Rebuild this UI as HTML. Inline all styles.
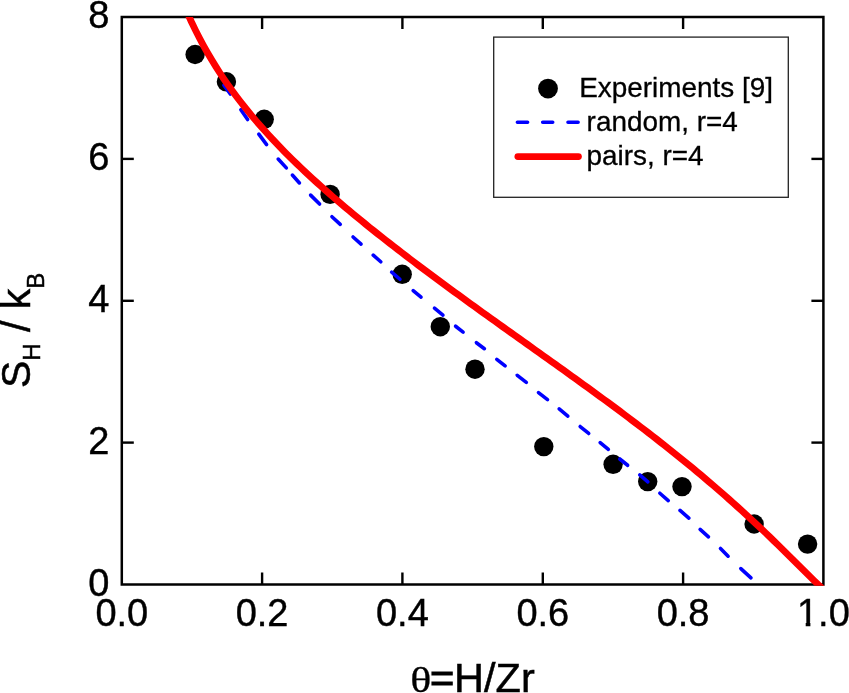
<!DOCTYPE html>
<html><head><meta charset="utf-8"><style>html,body{margin:0;padding:0;background:#fff;}svg{display:block;will-change:transform;font-family:"Liberation Sans",sans-serif;}</style></head><body>
<svg width="849" height="693" viewBox="0 0 849 693">
<rect width="849" height="693" fill="#fff"/>
<rect x="121.8" y="17.0" width="701.6" height="567.5" fill="none" stroke="#000" stroke-width="2.5"/>
<line x1="262.1" y1="584.5" x2="262.1" y2="572.5" stroke="#000" stroke-width="2.4"/>
<line x1="262.1" y1="17.0" x2="262.1" y2="29.0" stroke="#000" stroke-width="2.4"/>
<line x1="402.4" y1="584.5" x2="402.4" y2="572.5" stroke="#000" stroke-width="2.4"/>
<line x1="402.4" y1="17.0" x2="402.4" y2="29.0" stroke="#000" stroke-width="2.4"/>
<line x1="542.8" y1="584.5" x2="542.8" y2="572.5" stroke="#000" stroke-width="2.4"/>
<line x1="542.8" y1="17.0" x2="542.8" y2="29.0" stroke="#000" stroke-width="2.4"/>
<line x1="683.1" y1="584.5" x2="683.1" y2="572.5" stroke="#000" stroke-width="2.4"/>
<line x1="683.1" y1="17.0" x2="683.1" y2="29.0" stroke="#000" stroke-width="2.4"/>
<line x1="121.8" y1="442.6" x2="133.8" y2="442.6" stroke="#000" stroke-width="2.4"/>
<line x1="823.4" y1="442.6" x2="811.4" y2="442.6" stroke="#000" stroke-width="2.4"/>
<line x1="121.8" y1="300.8" x2="133.8" y2="300.8" stroke="#000" stroke-width="2.4"/>
<line x1="823.4" y1="300.8" x2="811.4" y2="300.8" stroke="#000" stroke-width="2.4"/>
<line x1="121.8" y1="158.9" x2="133.8" y2="158.9" stroke="#000" stroke-width="2.4"/>
<line x1="823.4" y1="158.9" x2="811.4" y2="158.9" stroke="#000" stroke-width="2.4"/>
<text x="121.8" y="626.4" font-size="38" text-anchor="middle" fill="#000" stroke="#000" stroke-width="0.4">0.0</text>
<text x="262.1" y="626.4" font-size="38" text-anchor="middle" fill="#000" stroke="#000" stroke-width="0.4">0.2</text>
<text x="402.4" y="626.4" font-size="38" text-anchor="middle" fill="#000" stroke="#000" stroke-width="0.4">0.4</text>
<text x="542.8" y="626.4" font-size="38" text-anchor="middle" fill="#000" stroke="#000" stroke-width="0.4">0.6</text>
<text x="683.1" y="626.4" font-size="38" text-anchor="middle" fill="#000" stroke="#000" stroke-width="0.4">0.8</text>
<text x="823.4" y="626.4" font-size="38" text-anchor="middle" fill="#000" stroke="#000" stroke-width="0.4">1.0</text>
<text x="109.3" y="595.9" font-size="38" text-anchor="end" fill="#000" stroke="#000" stroke-width="0.4">0</text>
<text x="109.3" y="454.0" font-size="38" text-anchor="end" fill="#000" stroke="#000" stroke-width="0.4">2</text>
<text x="109.3" y="312.1" font-size="38" text-anchor="end" fill="#000" stroke="#000" stroke-width="0.4">4</text>
<text x="109.3" y="170.3" font-size="38" text-anchor="end" fill="#000" stroke="#000" stroke-width="0.4">6</text>
<text x="109.3" y="28.4" font-size="38" text-anchor="end" fill="#000" stroke="#000" stroke-width="0.4">8</text>
<rect x="798" y="622.2" width="7.7" height="5.5" fill="#fff"/><rect x="810.4" y="622.2" width="7.5" height="5.5" fill="#fff"/>
<clipPath id="c"><rect x="121.8" y="17.0" width="702.8000000000001" height="568.8"/></clipPath>
<circle cx="195.1" cy="54.5" r="9.7" fill="#000"/>
<circle cx="226.4" cy="81.8" r="9.7" fill="#000"/>
<circle cx="264.2" cy="119.3" r="9.7" fill="#000"/>
<circle cx="330.1" cy="194.4" r="9.7" fill="#000"/>
<circle cx="402.2" cy="274.3" r="9.7" fill="#000"/>
<circle cx="440.3" cy="326.7" r="9.7" fill="#000"/>
<circle cx="475.0" cy="369.2" r="9.7" fill="#000"/>
<circle cx="543.8" cy="446.6" r="9.7" fill="#000"/>
<circle cx="613.1" cy="464.3" r="9.7" fill="#000"/>
<circle cx="647.7" cy="481.6" r="9.7" fill="#000"/>
<circle cx="682.0" cy="486.6" r="9.7" fill="#000"/>
<circle cx="754.1" cy="524" r="9.7" fill="#000"/>
<circle cx="807.6" cy="544.1" r="9.7" fill="#000"/>
<line x1="223.89" y1="85.21" x2="230.31" y2="93.99" stroke="#0000ff" stroke-width="3.6" stroke-linecap="round"/>
<line x1="240.87" y1="109.72" x2="247.63" y2="119.48" stroke="#0000ff" stroke-width="3.6" stroke-linecap="round"/>
<line x1="258.80" y1="134.20" x2="266.60" y2="144.60" stroke="#0000ff" stroke-width="3.6" stroke-linecap="round"/>
<line x1="278.18" y1="159.04" x2="286.32" y2="167.86" stroke="#0000ff" stroke-width="3.6" stroke-linecap="round"/>
<line x1="292.37" y1="175.05" x2="299.43" y2="182.95" stroke="#0000ff" stroke-width="3.6" stroke-linecap="round"/>
<line x1="310.61" y1="195.11" x2="319.59" y2="204.09" stroke="#0000ff" stroke-width="3.6" stroke-linecap="round"/>
<line x1="331.94" y1="216.77" x2="340.26" y2="224.33" stroke="#0000ff" stroke-width="3.6" stroke-linecap="round"/>
<line x1="353.05" y1="236.97" x2="361.05" y2="244.13" stroke="#0000ff" stroke-width="3.6" stroke-linecap="round"/>
<line x1="373.25" y1="255.16" x2="380.75" y2="261.74" stroke="#0000ff" stroke-width="3.6" stroke-linecap="round"/>
<line x1="391.66" y1="272.15" x2="399.94" y2="279.25" stroke="#0000ff" stroke-width="3.6" stroke-linecap="round"/>
<line x1="413.17" y1="290.54" x2="421.03" y2="297.16" stroke="#0000ff" stroke-width="3.6" stroke-linecap="round"/>
<line x1="434.47" y1="308.23" x2="442.93" y2="315.17" stroke="#0000ff" stroke-width="3.6" stroke-linecap="round"/>
<line x1="455.59" y1="326.22" x2="463.11" y2="332.08" stroke="#0000ff" stroke-width="3.6" stroke-linecap="round"/>
<line x1="476.40" y1="342.70" x2="484.40" y2="348.70" stroke="#0000ff" stroke-width="3.6" stroke-linecap="round"/>
<line x1="496.79" y1="359.32" x2="505.11" y2="365.88" stroke="#0000ff" stroke-width="3.6" stroke-linecap="round"/>
<line x1="517.29" y1="375.41" x2="526.31" y2="382.39" stroke="#0000ff" stroke-width="3.6" stroke-linecap="round"/>
<line x1="538.49" y1="392.61" x2="547.51" y2="399.59" stroke="#0000ff" stroke-width="3.6" stroke-linecap="round"/>
<line x1="559.17" y1="408.84" x2="567.83" y2="416.06" stroke="#0000ff" stroke-width="3.6" stroke-linecap="round"/>
<line x1="580.18" y1="426.53" x2="588.72" y2="433.47" stroke="#0000ff" stroke-width="3.6" stroke-linecap="round"/>
<line x1="600.16" y1="442.55" x2="608.34" y2="449.45" stroke="#0000ff" stroke-width="3.6" stroke-linecap="round"/>
<line x1="619.78" y1="459.02" x2="627.62" y2="465.28" stroke="#0000ff" stroke-width="3.6" stroke-linecap="round"/>
<line x1="639.76" y1="474.85" x2="647.84" y2="481.85" stroke="#0000ff" stroke-width="3.6" stroke-linecap="round"/>
<line x1="659.85" y1="493.26" x2="668.25" y2="500.54" stroke="#0000ff" stroke-width="3.6" stroke-linecap="round"/>
<line x1="680.05" y1="510.46" x2="688.85" y2="518.14" stroke="#0000ff" stroke-width="3.6" stroke-linecap="round"/>
<line x1="700.14" y1="529.37" x2="708.46" y2="536.83" stroke="#0000ff" stroke-width="3.6" stroke-linecap="round"/>
<line x1="720.50" y1="548.51" x2="728.10" y2="556.19" stroke="#0000ff" stroke-width="3.6" stroke-linecap="round"/>
<line x1="740.84" y1="568.57" x2="750.96" y2="577.83" stroke="#0000ff" stroke-width="3.6" stroke-linecap="round"/>
<path d="M183.54,3.90 L187.58,13.36 L191.62,22.24 L195.67,30.62 L199.71,38.54 L203.75,46.07 L207.79,53.24 L211.83,60.09 L215.88,66.65 L219.92,72.96 L223.96,79.02 L228.00,84.87 L232.04,90.52 L236.09,96.00 L240.13,101.30 L244.17,106.46 L248.21,111.48 L252.25,116.36 L256.30,121.13 L260.34,125.78 L264.38,130.33 L268.42,134.78 L272.46,139.15 L276.51,143.43 L280.55,147.63 L284.59,151.76 L288.63,155.82 L292.67,159.82 L296.71,163.75 L300.76,167.63 L304.80,171.45 L308.84,175.22 L312.88,178.95 L316.92,182.63 L320.97,186.27 L325.01,189.86 L329.05,193.42 L333.09,196.94 L337.13,200.43 L341.18,203.88 L345.22,207.31 L349.26,210.70 L353.30,214.06 L357.34,217.40 L361.39,220.72 L365.43,224.00 L369.47,227.27 L373.51,230.51 L377.55,233.73 L381.59,236.93 L385.64,240.11 L389.68,243.27 L393.72,246.42 L397.76,249.55 L401.80,252.66 L405.85,255.75 L409.89,258.83 L413.93,261.90 L417.97,264.95 L422.01,267.99 L426.06,271.02 L430.10,274.03 L434.14,277.04 L438.18,280.03 L442.22,283.01 L446.27,285.99 L450.31,288.95 L454.35,291.91 L458.39,294.85 L462.43,297.79 L466.48,300.73 L470.52,303.65 L474.56,306.57 L478.60,309.48 L482.64,312.39 L486.68,315.29 L490.73,318.19 L494.77,321.08 L498.81,323.97 L502.85,326.86 L506.89,329.75 L510.94,332.63 L514.98,335.51 L519.02,338.39 L523.06,341.26 L527.10,344.14 L531.15,347.02 L535.19,349.90 L539.23,352.78 L543.27,355.66 L547.31,358.54 L551.36,361.42 L555.40,364.31 L559.44,367.20 L563.48,370.10 L567.52,373.00 L571.57,375.90 L575.61,378.81 L579.65,381.73 L583.69,384.65 L587.73,387.58 L591.77,390.52 L595.82,393.46 L599.86,396.42 L603.90,399.38 L607.94,402.36 L611.98,405.34 L616.03,408.34 L620.07,411.34 L624.11,414.36 L628.15,417.40 L632.19,420.44 L636.24,423.50 L640.28,426.58 L644.32,429.67 L648.36,432.78 L652.40,435.90 L656.45,439.05 L660.49,442.21 L664.53,445.39 L668.57,448.59 L672.61,451.81 L676.66,455.05 L680.70,458.31 L684.74,461.59 L688.78,464.90 L692.82,468.23 L696.86,471.59 L700.91,474.97 L704.95,478.37 L708.99,481.80 L713.03,485.26 L717.07,488.75 L721.12,492.27 L725.16,495.81 L729.20,499.38 L733.24,502.99 L737.28,506.62 L741.33,510.28 L745.37,513.98 L749.41,517.70 L753.45,521.46 L757.49,525.25 L761.54,529.06 L765.58,532.91 L769.62,536.79 L773.66,540.70 L777.70,544.64 L781.75,548.60 L785.79,552.59 L789.83,556.59 L793.87,560.62 L797.91,564.65 L801.95,568.68 L806.00,572.71 L810.04,576.70 L814.08,580.64 L818.12,584.48 L822.16,588.15 L826.21,591.50" fill="none" stroke="#ff0000" stroke-width="6.8" stroke-linejoin="round" clip-path="url(#c)"/>
<rect x="493.7" y="37.1" width="294.6" height="160.2" fill="#fff" stroke="#222" stroke-width="1.3"/>
<circle cx="548" cy="88.6" r="9.9" fill="#000"/>
<text x="579.2" y="97.2" font-size="27.9" fill="#000" stroke="#000" stroke-width="0.3">Experiments [9]</text>
<path d="M517.4,122.2H527.6M542.7,122.2H552.7M568,122.2H578.1" stroke="#0000ff" stroke-width="3.6" stroke-linecap="round" fill="none"/>
<text x="586.6" y="131.4" font-size="27.9" fill="#000" stroke="#000" stroke-width="0.3">random, r=4</text>
<line x1="517.9" y1="156.6" x2="578.4" y2="156.6" stroke="#ff0000" stroke-width="6.9" stroke-linecap="round"/>
<text x="586.6" y="164.9" font-size="27.9" fill="#000" stroke="#000" stroke-width="0.3">pairs, r=4</text>
<text transform="translate(410.2,692.4) scale(1.06,0.875)" font-size="41.5" font-family="Liberation Serif, serif" fill="#000" stroke="#000" stroke-width="0.3">θ</text>
<text x="429.9" y="692.2" font-size="41.5" fill="#000" stroke="#000" stroke-width="1.2">=</text>
<text x="454.1" y="692.2" font-size="41.5" fill="#000" stroke="#000" stroke-width="0.5">H/Zr</text>
<g transform="translate(30.4,388.1) rotate(-90)"><text x="0" y="0" font-size="41" fill="#000" stroke="#000" stroke-width="0.5">S<tspan font-size="24" dy="9.6">H</tspan><tspan dy="-9.6"> / k</tspan><tspan font-size="24" dy="13.4">B</tspan></text></g>
</svg></body></html>
